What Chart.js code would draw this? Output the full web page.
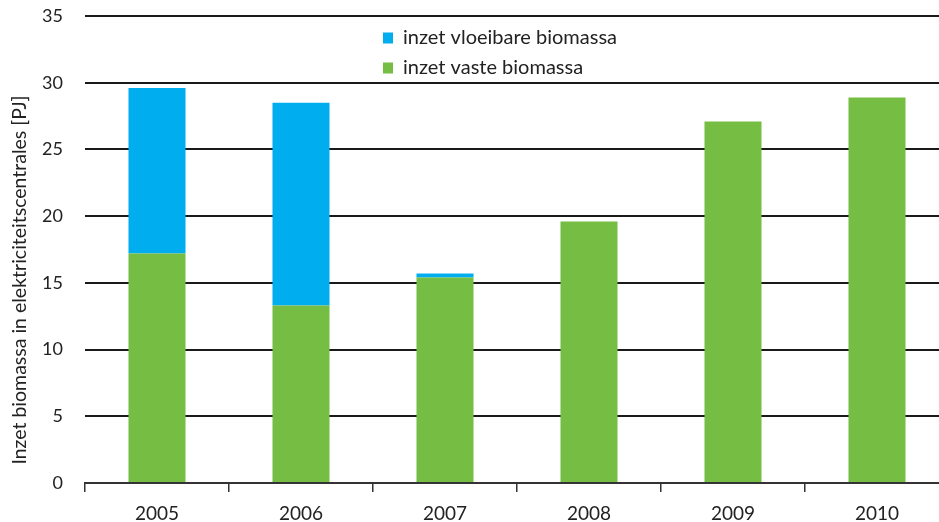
<!DOCTYPE html>
<html>
<head>
<meta charset="utf-8">
<script src="https://cdn.jsdelivr.net/npm/chart.js@4/dist/chart.umd.min.js"></script>
<style>
    html, body { margin: 0; padding: 0; background: #fff; overflow: hidden; }
    canvas { display: block; }
</style>
</head>
<body>
<canvas id="chart" width="949" height="522"></canvas>
<script>
const years = ["2005", "2006", "2007", "2008", "2009", "2010"];
const vasteBiomassa = [17.2, 13.3, 15.4, 19.6, 27.1, 28.9];
const vloeibareBiomassa = [12.4, 15.2, 0.3, 0, 0, 0];
const yTicks = [0, 5, 10, 15, 20, 25, 30, 35];
const yTitle = "Inzet biomassa in elektriciteitscentrales [PJ]";

const FONT = "Lato, 'Open Sans', sans-serif";
const BLUE = "#00aeef";
const GREEN = "#76be43";

Chart.defaults.font.family = FONT;
Chart.defaults.color = "#222";

// Legend sits inside the plot, stacked, left-aligned; Chart.js can't do that layout.
// The axis title is drawn here too, since it sits off-centre in the original.
const extras = {
    id: "extras",
    afterDraw(chart) {
        const ctx = chart.ctx;
        const items = [
            { label: chart.data.datasets[1].label, color: BLUE },
            { label: chart.data.datasets[0].label, color: GREEN },
        ];
        ctx.save();
        ctx.font = "20px " + FONT;
        ctx.textBaseline = "middle";
        items.forEach((it, i) => {
            const y = 38 + i * 30;
            ctx.fillStyle = it.color;
            ctx.fillRect(383, y - 5.5, 10, 11);
            ctx.fillStyle = "#222";
            ctx.fillText(it.label, 403, y);
        });

        ctx.translate(20, 280);
        ctx.rotate(-Math.PI / 2);
        ctx.textAlign = "center";
        ctx.font = "19.5px " + FONT;
        ctx.fillText(yTitle, 0, 0);
        ctx.restore();
    },
};

new Chart(document.getElementById("chart"), {
    type: "bar",
    data: {
        labels: years,
        datasets: [
            { label: "inzet vaste biomassa", data: vasteBiomassa, backgroundColor: GREEN },
            { label: "inzet vloeibare biomassa", data: vloeibareBiomassa, backgroundColor: BLUE },
        ],
    },
    options: {
        responsive: false,
        animation: false,
        devicePixelRatio: 1,
        layout: { padding: { top: 16, left: 0, right: 0, bottom: 0 } },
        plugins: { legend: { display: false }, tooltip: { enabled: false } },
        datasets: { bar: { categoryPercentage: 1, barPercentage: 0.396 } },
        scales: {
            x: {
                stacked: true,
                offset: true,
                grid: { drawOnChartArea: false, offset: true, tickLength: 9, color: "#333", lineWidth: 1.5 },
                border: { display: true, color: "#333", width: 2 },
                ticks: { font: { size: 19 }, padding: 10, color: "#222" },
                afterFit(scale) { scale.height = 39; scale.paddingLeft = 0; scale.paddingRight = 0; },
            },
            y: {
                stacked: true,
                min: 0,
                max: 35,
                afterBuildTicks(scale) { scale.ticks = yTicks.map(v => ({ value: v })); },
                grid: { drawTicks: false, color: "#1a1a1a", lineWidth: 2 },
                border: { display: false },
                ticks: { font: { size: 18 }, padding: 22, color: "#222" },
                afterFit(scale) { scale.width = 85; scale.paddingTop = 0; scale.paddingBottom = 0; },
            },
        },
    },
    plugins: [extras],
});
</script>
</body>
</html>
